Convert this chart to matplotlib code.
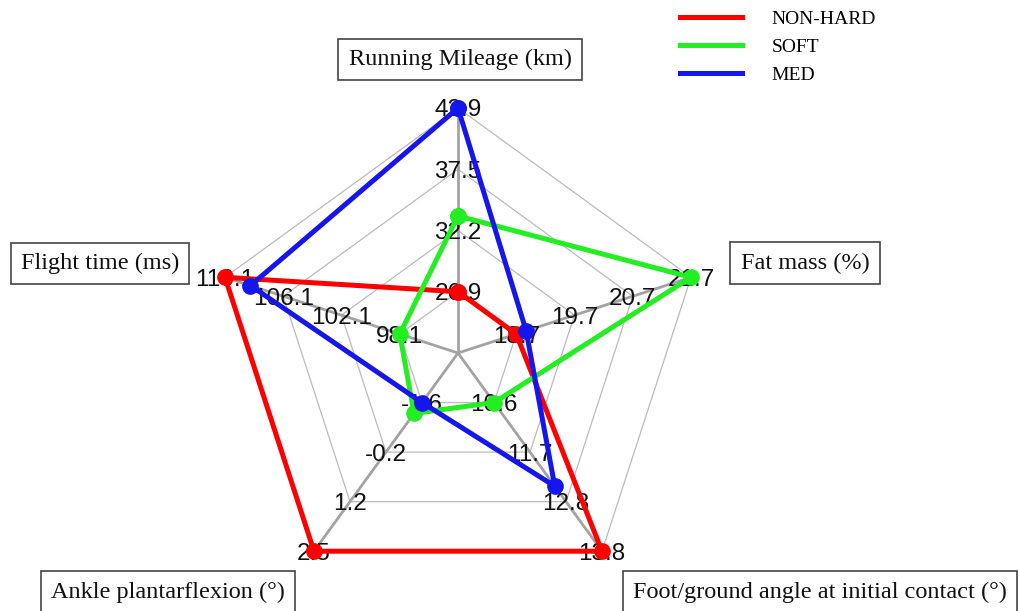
import numpy as np
import matplotlib
matplotlib.use("Agg")
import matplotlib.pyplot as plt
from matplotlib.lines import Line2D

# ---- data ----
axis_names = ["Running Mileage (km)", "Fat mass (%)",
              "Foot/ground angle at initial contact (°)",
              "Ankle plantarflexion (°)", "Flight time (ms)"]
running_ticks = ["26.9", "32.2", "37.5", "42.9"]
fat_ticks = ["18.7", "19.7", "20.7", "21.7"]
foot_ticks = ["10.6", "11.7", "12.8", "13.8"]
ankle_ticks = ["-1.6", "-0.2", "1.2", "2.5"]
flight_ticks = ["98.1", "102.1", "106.1", "110.1"]
tick_labels = [running_ticks, fat_ticks, foot_ticks, ankle_ticks, flight_ticks]

series_names = ["NON-HARD", "SOFT", "MED"]
non_hard = [26.9, 18.7, 13.8, 2.5, 110.1]
soft = [33.5, 21.7, 10.6, -1.3, 98.1]
med = [42.9, 18.87, 12.4, -1.6, 108.35]
series_values = [non_hard, soft, med]
series_colors = ["#ff0000", "#22ee22", "#1515ee"]

# ---- layout ----
W, H = 1019, 611
CX, CY = 458, 353
S = 61.25  # pixels per ring level
fig = plt.figure(figsize=(W / 100, H / 100), dpi=100)
ax = fig.add_axes([0, 0, 1, 1])
ax.set_xlim(-CX / S, (W - CX) / S)
ax.set_ylim(-(H - CY) / S, CY / S)
ax.axis("off")

n = len(axis_names)
angles = np.deg2rad(90 - 360 / n * np.arange(n))
levels = np.arange(1, 5)
cosA, sinA = np.cos(angles), np.sin(angles)

# rings
for lev in levels:
    xs = np.append(lev * cosA, lev * cosA[0])
    ys = np.append(lev * sinA, lev * sinA[0])
    ax.plot(xs, ys, color="#bbbbbb", lw=0.9, zorder=1)
# spokes
for c, s in zip(cosA, sinA):
    ax.plot([0, levels[-1] * c], [0, levels[-1] * s], color="#a3a3a3", lw=2.0, zorder=1.5)

# tick labels
for i in range(n):
    for lev, lab in zip(levels, tick_labels[i]):
        ax.text(lev * cosA[i], lev * sinA[i], lab, ha="center", va="center_baseline",
                fontsize=17.5, family="Liberation Sans", color="#111111", zorder=3)

# series
for vals, col, name in zip(series_values, series_colors, series_names):
    lv = []
    for i, v in enumerate(vals):
        lo = float(tick_labels[i][0]); hi = float(tick_labels[i][-1])
        lv.append(1 + 3 * (v - lo) / (hi - lo))
    lv = np.array(lv)
    xs = np.append(lv * cosA, lv[0] * cosA[0])
    ys = np.append(lv * sinA, lv[0] * sinA[0])
    ax.plot(xs, ys, color=col, lw=3.6, marker="o", ms=11, zorder=4, label=name)

# axis labels (boxed)
def px(x, y):
    return (x - CX) / S, (CY - y) / S

box = dict(boxstyle="square,pad=0.42", fc="white", ec="#444444", lw=1.2)
lab_pos = [((460, 59.5), "center"), ((805, 263), "center"), ((633, 592), "left"),
           ((168, 592), "center"), ((100, 263.5), "center")]
for name, ((x, y), ha) in zip(axis_names, lab_pos):
    dx, dy = px(x, y)
    ax.text(dx, dy, name, ha=ha, va="center", fontsize=17.5,
            family="Liberation Serif", color="#111111", bbox=box, zorder=5)

# legend
handles = [Line2D([], [], color=c, lw=3.6) for c in series_colors]
fig.legend(handles, series_names, loc="upper left",
           bbox_to_anchor=(680 / W, 1 - 10 / H), frameon=False,
           prop=dict(family="Liberation Serif", size=14),
           handlelength=3.2, handletextpad=1.5, labelspacing=0.55,
           borderpad=0, borderaxespad=0)

fig.savefig("out.png", dpi=100)
